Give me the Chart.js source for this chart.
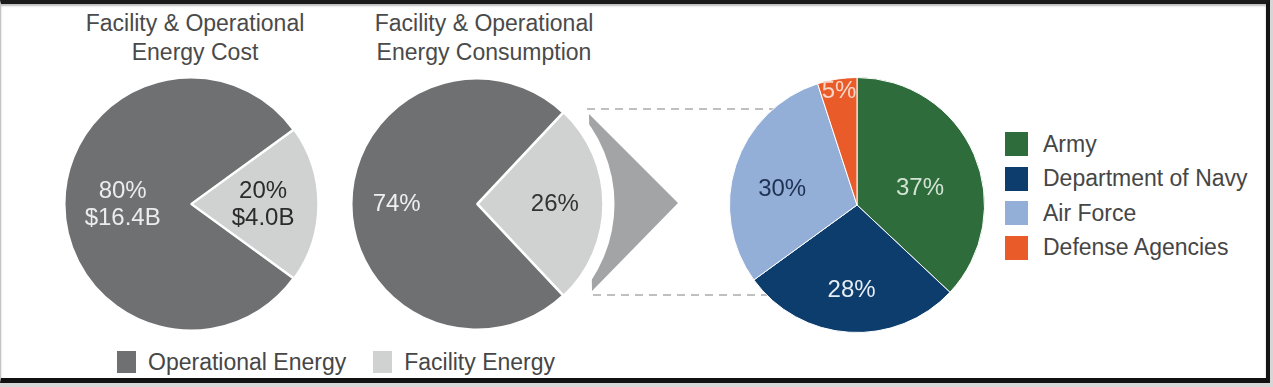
<!DOCTYPE html>
<html>
<head>
<meta charset="utf-8">
<script src="https://cdn.jsdelivr.net/npm/chart.js@4.4.1/dist/chart.umd.min.js"></script>
<style>
  body { margin: 0; width: 1273px; height: 387px; background: #d6d6d6; position: relative; overflow: hidden;
         font-family: "Liberation Sans", Arial, sans-serif; }
  #frame { position: absolute; left: 0; top: 0; width: 1265px; height: 374px; background: #fff;
           border-top: 4px solid #1b1b1b; border-right: 4px solid #141414; border-bottom: 5px solid #111;
           border-left: 1px solid #c4c4c4; box-shadow: inset 0 2px 2px #bdbdbd; }
  canvas { position: absolute; }
  .title { position: absolute; width: 300px; text-align: center; font-size: 23px; line-height: 29px; color: #4a4a4a; }
  .legend { position: absolute; display: flex; font-size: 23px; color: #464646; white-space: nowrap; }
  .legend .item { display: flex; align-items: center; }
  .legend .box { display: inline-block; }
  #costLegend .box { width: 19px; height: 22px; margin-right: 12px; }
  #costLegend .item { margin-right: 27px; height: 22px; }
  #orgLegend { flex-direction: column; }
  #orgLegend .item { height: 34.5px; }
  #orgLegend .box { width: 23px; height: 24px; margin-right: 15px; }
</style>
</head>
<body>
<div id="frame"></div>
<div class="title" style="left:45px;top:9px">Facility &amp; Operational<br>Energy Cost</div>
<div class="title" style="left:334px;top:9px">Facility &amp; Operational<br>Energy Consumption</div>
<canvas id="cost" width="258" height="258" style="left:62px;top:75px"></canvas>
<canvas id="use" width="440" height="256" style="left:349px;top:76px"></canvas>
<canvas id="orgs" width="256" height="256" style="left:729px;top:77px"></canvas>
<div class="legend" id="costLegend" style="left:117px;top:351px"></div>
<div class="legend" id="orgLegend" style="left:1005px;top:127px"></div>

<script>
const energyTypes = ['Operational Energy', 'Facility Energy'];
const energyColors = ['#6f7072', '#d0d1d1'];

const costShares = [80, 20];
const costDollars = ['$16.4B', '$4.0B'];

const consumptionShares = [74, 26];

const services = ['Army', 'Department of Navy', 'Air Force', 'Defense Agencies'];
const serviceShares = [37, 28, 30, 5];
const serviceColors = ['#2e6c3b', '#0d3d6d', '#93afd7', '#ea5b2a'];
const serviceTextColors = ['#d3e3d3', '#e6edf5', '#1e3152', '#f7d6c8'];

// draws percent (and optional second line) at a fraction of the radius along each slice's mid angle
const sliceLabels = {
  id: 'sliceLabels',
  afterDatasetsDraw(chart, args, opts) {
    const ctx = chart.ctx;
    const meta = chart.getDatasetMeta(0);
    ctx.save();
    ctx.font = '24px "Liberation Sans", Arial, sans-serif';
    ctx.textAlign = 'center';
    ctx.textBaseline = 'middle';
    meta.data.forEach((arc, i) => {
      const shift = opts.shift ? opts.shift[i] * Math.PI / 180 : 0;
      const mid = (arc.startAngle + arc.endAngle) / 2 + shift;
      const r = arc.outerRadius * opts.radius[i];
      const x = arc.x + Math.cos(mid) * r;
      const y = arc.y + Math.sin(mid) * r;
      ctx.fillStyle = opts.colors[i];
      const pct = chart.data.datasets[0].data[i] + '%';
      if (opts.second) {
        ctx.fillText(pct, x, y - 13);
        ctx.fillText(opts.second[i], x, y + 14);
      } else {
        ctx.fillText(pct, x, y);
      }
    });
    ctx.restore();
  }
};

// grey arrow and dashed guide lines that lead from the consumption pie to the breakdown pie
const zoomArrow = {
  id: 'zoomArrow',
  beforeDatasetsDraw(chart) {
    const ctx = chart.ctx;
    const arc = chart.getDatasetMeta(0).data[0];
    const cx = arc.x, cy = arc.y, r = arc.outerRadius;
    ctx.save();
    ctx.fillStyle = '#a3a4a5';
    ctx.beginPath();
    ctx.moveTo(cx + 112, cy - 90);
    ctx.lineTo(cx + 201, cy - 1);
    ctx.lineTo(cx + 115, cy + 87);
    ctx.closePath();
    ctx.fill();
    ctx.fillStyle = '#fff';
    ctx.beginPath();
    ctx.arc(cx, cy, r + 12, 0, Math.PI * 2);
    ctx.fill();
    ctx.strokeStyle = '#bfbfbf';
    ctx.lineWidth = 2;
    ctx.setLineDash([8, 6]);
    ctx.beginPath();
    ctx.moveTo(cx + 110, cy - 95);
    ctx.lineTo(chart.width, cy - 95);
    ctx.moveTo(cx + 116, cy + 91);
    ctx.lineTo(chart.width, cy + 91);
    ctx.stroke();
    ctx.restore();
  }
};

const baseOptions = {
  responsive: false,
  animation: false,
  events: [],
  plugins: { legend: { display: false }, tooltip: { enabled: false } }
};

new Chart(document.getElementById('cost'), {
  type: 'pie',
  data: {
    labels: energyTypes,
    datasets: [{
      data: costShares,
      backgroundColor: energyColors,
      borderColor: '#fff',
      borderWidth: 2,
      offset: [0, 3]
    }]
  },
  options: {
    ...baseOptions,
    rotation: 126,
    plugins: {
      ...baseOptions.plugins,
      sliceLabels: { radius: [0.54, 0.57], colors: ['#ececec', '#2b2b2b'], second: costDollars }
    }
  },
  plugins: [sliceLabels]
});

new Chart(document.getElementById('use'), {
  type: 'pie',
  data: {
    labels: energyTypes,
    datasets: [{
      data: consumptionShares,
      backgroundColor: energyColors,
      borderColor: '#fff',
      borderWidth: 2,
      offset: [0, 3]
    }]
  },
  options: {
    ...baseOptions,
    rotation: 136.8,
    layout: { padding: { right: 184 } },
    plugins: {
      ...baseOptions.plugins,
      sliceLabels: { radius: [0.64, 0.62], colors: ['#efefef', '#333'] }
    }
  },
  plugins: [zoomArrow, sliceLabels]
});

new Chart(document.getElementById('orgs'), {
  type: 'pie',
  data: {
    labels: services,
    datasets: [{
      data: serviceShares,
      backgroundColor: serviceColors,
      borderColor: '#fff',
      borderWidth: 1
    }]
  },
  options: {
    ...baseOptions,
    plugins: {
      ...baseOptions.plugins,
      sliceLabels: { radius: [0.51, 0.67, 0.6, 0.9], shift: [9, 0, -6, 0], colors: serviceTextColors }
    }
  },
  plugins: [sliceLabels]
});

function buildLegend(el, names, colors) {
  names.forEach((name, i) => {
    const item = document.createElement('div');
    item.className = 'item';
    const box = document.createElement('span');
    box.className = 'box';
    box.style.background = colors[i];
    const label = document.createElement('span');
    label.textContent = name;
    item.appendChild(box);
    item.appendChild(label);
    el.appendChild(item);
  });
}
buildLegend(document.getElementById('costLegend'), energyTypes, energyColors);
buildLegend(document.getElementById('orgLegend'), services, serviceColors);
</script>
</body>
</html>
